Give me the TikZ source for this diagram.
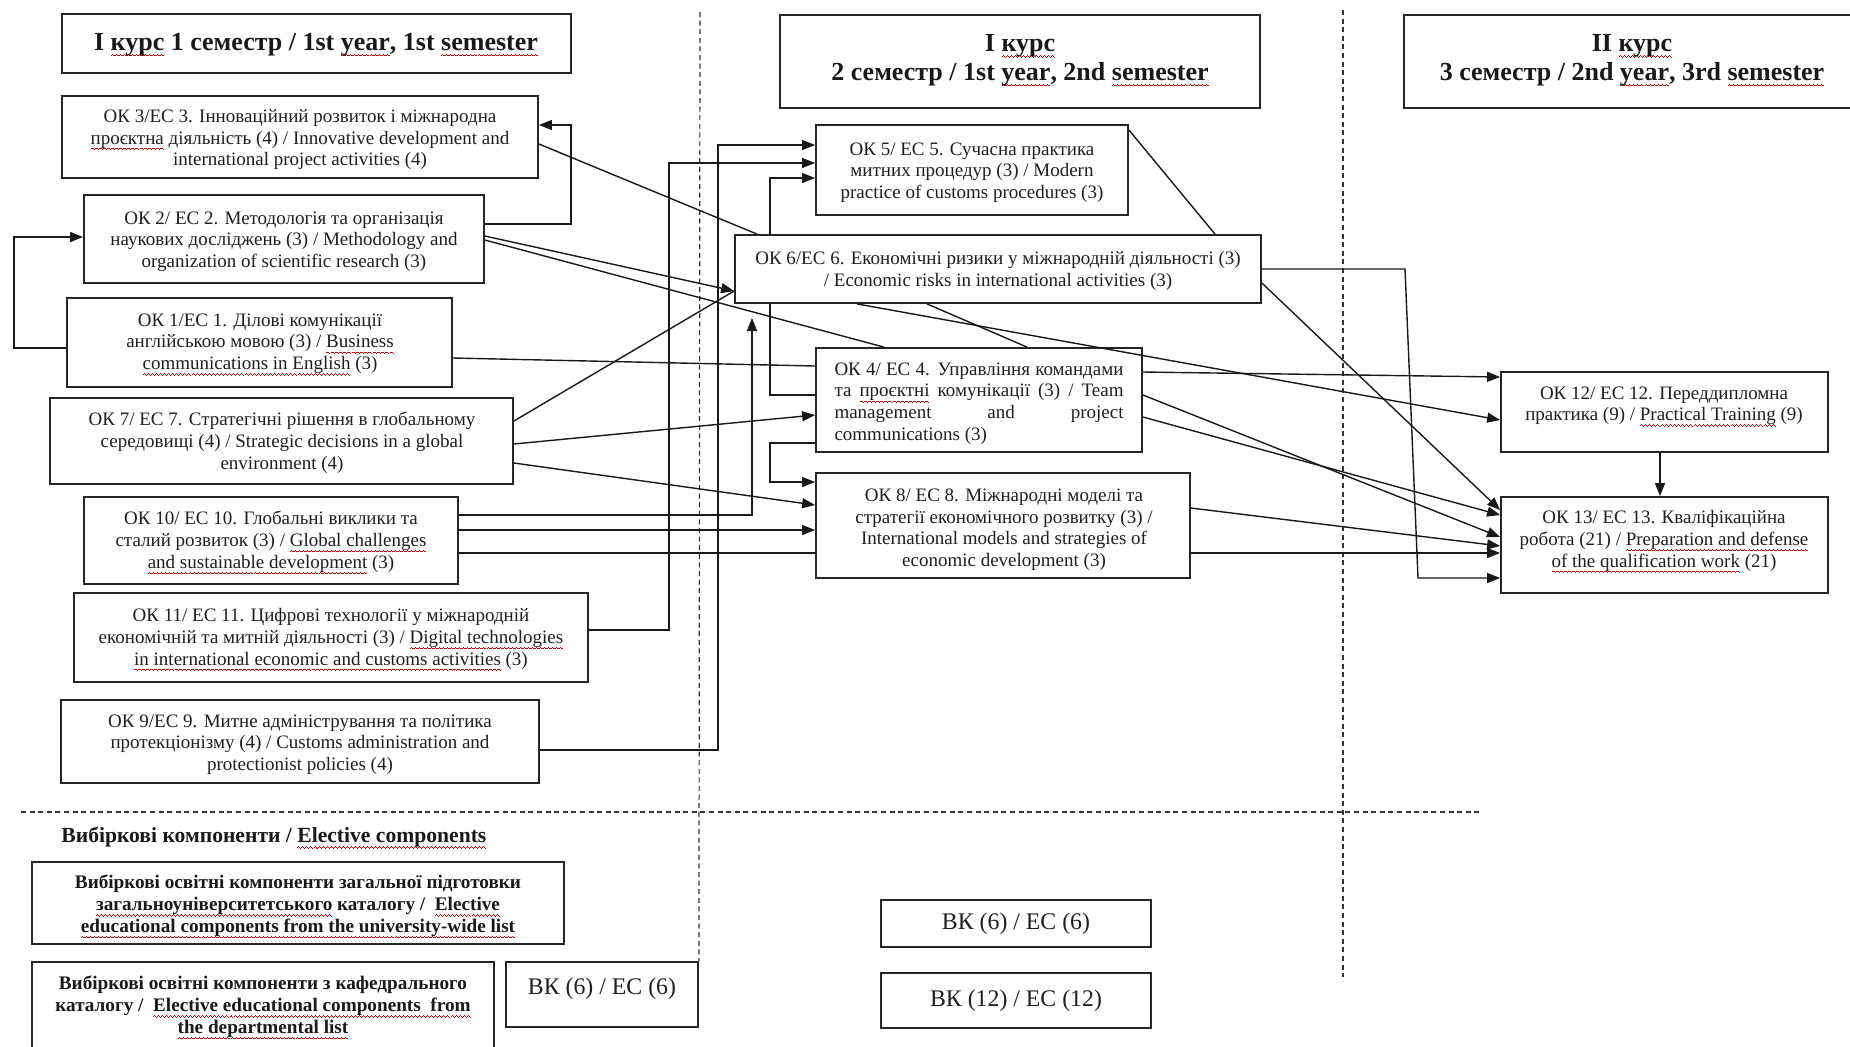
\documentclass[tikz,border=0pt]{standalone}
\usepackage{fontspec}
\setmainfont{Liberation Serif}
\usetikzlibrary{arrows.meta,fit,calc,backgrounds}
\newsavebox\wvbox
\newsavebox\rwtxt
\newcommand\rw[1]{\leavevmode\sbox\rwtxt{#1}\rlap{\lower2.4pt\hbox to \wd\rwtxt{\xleaders\copy\wvbox\hfill}}\usebox\rwtxt}
\tikzset{
  bx/.style={draw=black!85, line width=0.9pt, fill=white, inner sep=0pt},
  tx/.style={align=center, inner sep=0pt, yshift=-1.3pt, text=black!88, font=\fontsize{9.5}{10.9}\selectfont},
  hd/.style={align=center, inner sep=0pt, yshift=-1.3pt, text=black!90, font=\fontsize{13}{14.3}\selectfont\bfseries},
  etx/.style={align=center, inner sep=0pt, yshift=-1.3pt, text=black!90, font=\fontsize{9.6}{10.9}\selectfont\bfseries},
  bkt/.style={align=center, inner sep=0pt, yshift=-1pt, text=black!88, font=\fontsize{11.9}{13}\selectfont},
  ln/.style={line width=0.7pt, draw=black!90},
  ar/.style={ln, -{Triangle[length=6.5pt,width=5pt]}},
  dsh/.style={line width=0.6pt, dash pattern=on 2.5pt off 1.8pt, draw=black!80},
}
\begin{document}
\sbox\wvbox{\color{red!80!black}\rule[-0.2pt]{0.5pt}{0.45pt}\rule[0.15pt]{0.5pt}{0.45pt}\rule[-0.2pt]{0.5pt}{0.45pt}\rule[-0.55pt]{0.5pt}{0.45pt}}
\begin{tikzpicture}[x=0.5pt,y=-0.5pt]
\useasboundingbox (0,0) rectangle (1850,1046);

% ---------- boxes ----------
\node[bx, fit={(62,14)(571,73)}] (h1) {};
\node[bx, fit={(780,15)(1260,108)}] (h2) {};
\node[bx, fit={(1404,15)(1856,108)}] (h3) {};
\node[bx, fit={(62,96)(538,178)}] (ok3) {};
\node[bx, fit={(84,195)(484,283)}] (ok2) {};
\node[bx, fit={(67,298)(452,387)}] (ok1) {};
\node[bx, fit={(50,398)(513,484)}] (ok7) {};
\node[bx, fit={(84,497)(458,584)}] (ok10) {};
\node[bx, fit={(74,593)(588,682)}] (ok11) {};
\node[bx, fit={(61,700)(539,783)}] (ok9) {};
\node[bx, fit={(816,125)(1128,215)}] (ok5) {};
\node[bx, fit={(735,235)(1261,303)}] (ok6) {};
\node[bx, fit={(816,348)(1142,452)}] (ok4) {};
\node[bx, fit={(816,473)(1190,578)}] (ok8) {};
\node[bx, fit={(1501,372)(1828,452)}] (ok12) {};
\node[bx, fit={(1501,497)(1828,593)}] (ok13) {};
\node[bx, fit={(32,862)(564,944)}] (e1) {};
\node[bx, fit={(32,962)(494,1060)}] (e2) {};
\node[bx, fit={(506,962)(698,1027)}] (bk1) {};
\node[bx, fit={(881,900)(1151,947)}] (bk2) {};
\node[bx, fit={(881,973)(1151,1028)}] (bk3) {};

% ---------- texts ----------
\node[hd] (h1t) at (316,42) {І \rw{курс} 1 семестр / 1st \rw{year}, 1st \rw{semester}};
\node[hd] (h2t) at (1020,58) {І \rw{курс}\\2 семестр / 1st \rw{year}, 2nd \rw{semester}};
\node[hd] (h3t) at (1632,58) {ІІ \rw{курс}\\3 семестр / 2nd \rw{year}, 3rd \rw{semester}};

\node[tx] (ok3t) at (300,137) {ОК 3/ЕС 3. Інноваційний розвиток і міжнародна\\\rw{проєктна} діяльність (4) / Innovative development and\\international project activities (4)};
\node[tx] (ok2t) at (284,239) {ОК 2/ ЕС 2. Методологія та організація\\наукових досліджень (3) / Methodology and\\organization of scientific research (3)};
\node[tx] (ok1t) at (260,342) {ОК 1/ЕС 1. Ділові комунікації\\англійською мовою (3) / \rw{Business}\\\rw{communications in English} (3)};
\node[tx] (ok7t) at (282,440) {ОК 7/ ЕС 7. Стратегічні рішення в глобальному\\середовищі (4) / Strategic decisions in a global\\environment (4)};
\node[tx] (ok10t) at (271,540) {ОК 10/ ЕС 10. Глобальні виклики та\\сталий розвиток (3) / \rw{Global challenges}\\\rw{and sustainable development} (3)};
\node[tx] (ok11t) at (331,637) {ОК 11/ ЕС 11. Цифрові технології у міжнародній\\економічній та митній діяльності (3) / \rw{Digital technologies}\\\rw{in international economic and customs activities} (3)};
\node[tx] (ok9t) at (300,742) {ОК 9/ЕС 9. Митне адміністрування та політика\\протекціонізму (4) / Customs administration and\\protectionist policies (4)};
\node[tx] (ok5t) at (972,170) {ОК 5/ ЕС 5. Сучасна практика\\митних процедур (3) / Modern\\practice of customs procedures (3)};
\node[tx] (ok6t) at (998,268) {ОК 6/ЕС 6. Економічні ризики у міжнародній діяльності (3)\\/ Economic risks in international activities (3)};
\node[tx] (ok4t) at (979,401) {\makebox[144.5pt][s]{ОК 4/ ЕС 4. Управління командами}\\\makebox[144.5pt][s]{та \rw{проєктні} комунікації (3) / Team}\\\makebox[144.5pt][s]{management and project}\\\makebox[144.5pt][l]{communications (3)}};
\node[tx] (ok8t) at (1004,527) {ОК 8/ ЕС 8. Міжнародні моделі та\\стратегії економічного розвитку (3) /\\International models and strategies of\\economic development (3)};
\node[tx] (ok12t) at (1664,404) {ОК 12/ ЕС 12. Переддипломна\\практика (9) / \rw{Practical Training} (9)};
\node[tx] (ok13t) at (1664,539) {ОК 13/ ЕС 13. Кваліфікаційна\\робота (21) / \rw{Preparation and defense}\\\rw{of the qualification work} (21)};

\node[anchor=west, inner sep=0pt, yshift=-1pt, text=black!90, font=\fontsize{10.8}{12}\selectfont\bfseries] (elt) at (61,836) {Вибіркові компоненти / \rw{Elective components}};
\node[etx] (e1t) at (298,904) {Вибіркові освітні компоненти загальної підготовки\\\rw{загальноуніверситетського} каталогу /\ \ \rw{Elective}\\\rw{educational components from the university-wide list}};
\node[etx] (e2t) at (263,1005) {Вибіркові освітні компоненти з кафедрального\\каталогу /\ \ \rw{Elective educational components\ \ from}\\\rw{the departmental list}};
\node[bkt] (bk1t) at (602,987) {ВК (6) / ЕС (6)};
\node[bkt] (bk2t) at (1016,922) {ВК (6) / ЕС (6)};
\node[bkt] (bk3t) at (1016,999) {ВК (12) / ЕС (12)};

% ---------- connectors ----------
\begin{scope}[on background layer]
\fill[white] (0,0) rectangle (1850,1046);
\draw[dsh] (700,12) -- (bk1.north east);
\draw[dsh] (1343,10) -- (1343,977);
\draw[dsh] (21,812) -- (1481,812);

% left column loops
\draw[ar] (ok1.west |- 0,348) -- (14,348) -- (14,237) -- (ok2.west |- 0,237);
\draw[ar] (ok2.east |- 0,224) -- (571,224) -- (571,125) -- (ok3.east |- 0,125);

% into OK6 / OK4
\draw[ln] (ok3.east |- 0,144) -- (ok6.north -| 757,0);
\draw[ar] (ok2.east |- 0,236) -- (ok6.west |- 0,291);
\draw[ln] (ok2.east |- 0,240) -- (ok4.north -| 884,0);
\draw[ln] (ok7.east |- 0,421) -- (ok6.west |- 0,291);
\draw[ln] (ok1.east |- 0,358) -- (ok4.west |- 0,366);
\draw[ar] (ok7.east |- 0,444) -- (ok4.west |- 0,415);
\draw[ar] (ok7.east |- 0,463) -- (ok8.west |- 0,505);
\draw[ar, shorten >=7pt] (ok10.east |- 0,515) -- (752,515) -- (ok6.south -| 752,0);
\draw[ar] (ok10.east |- 0,530) -- (ok8.west |- 0,530);
\draw[ar] (ok10.east |- 0,553) -- (ok13.west |- 0,553);

% into OK5
\draw[ar] (ok11.east |- 0,630) -- (669,630) -- (669,163) -- (ok5.west |- 0,163);
\draw[ar] (ok9.east |- 0,750) -- (718,750) -- (718,145) -- (ok5.west |- 0,145);
\draw[ar] (ok4.west |- 0,395) -- (770,395) -- (770,178) -- (ok5.west |- 0,178);
\draw[ar] (ok4.west |- 0,443) -- (770,443) -- (770,482) -- (ok8.west |- 0,482);

% middle column
\draw[ln] (ok5.east |- 0,130) -- (ok6.north -| 1215,0);
\draw[ln] (ok6.south -| 927,0) -- (ok4.north -| 1027,0);

% into OK12 / OK13
\draw[ar] (ok4.east |- 0,372) -- (ok12.west |- 0,377);
\draw[ar] (ok4.east |- 0,395) -- (ok13.west |- 0,537);
\draw[ar] (ok4.east |- 0,417) -- (ok13.west |- 0,515);
\draw[ar] (ok8.east |- 0,508) -- (ok13.west |- 0,546);
\draw[ar] (ok6.east |- 0,283) -- (ok13.west |- 0,510);
\draw[ar] (ok6.east |- 0,269) -- (1405,269) -- (1418,578) -- (ok13.west |- 0,578);
\draw[ar] (ok12.south -| 1660,0) -- (ok13.north -| 1660,0);
\end{scope}
\draw[ar] (ok6.south -| 857,0) -- (ok12.west |- 0,420);
\end{tikzpicture}
\end{document}
